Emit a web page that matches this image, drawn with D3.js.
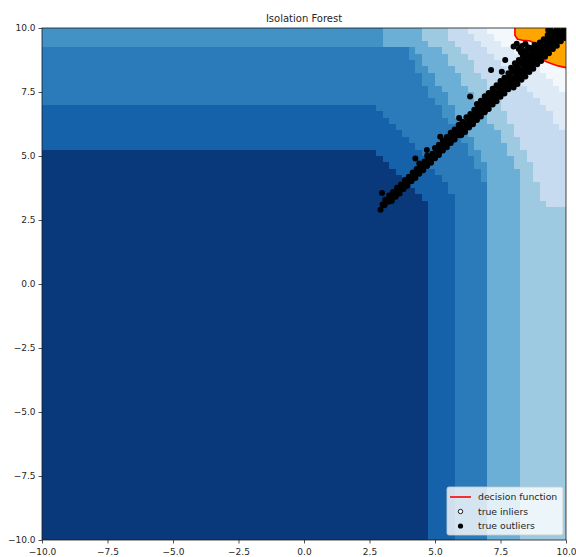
<!DOCTYPE html>
<html><head><meta charset="utf-8">
<script src="https://cdn.jsdelivr.net/npm/d3@7"></script>
<style>body{margin:0;background:#fff;} svg{display:block;font-family:"DejaVu Sans",sans-serif;}</style>
</head><body><svg id="c" width="576" height="557"></svg>
<script>
const chartTitle = "Isolation Forest";
const xTicks = [-10, -7.5, -5, -2.5, 0, 2.5, 5, 7.5, 10];
const yTicks = [-10, -7.5, -5, -2.5, 0, 2.5, 5, 7.5, 10];
const bandColors = ["#0a397b", "#1562aa", "#2b7bba", "#4292c6", "#6baed6", "#9ecae1", "#c6dbef", "#deebf7", "#f3f8fd"];
const rowEdges = [-10, 2.5, 2.75, 3, 3.25, 3.5, 3.75, 4, 4.25, 4.5, 4.75, 5, 5.25, 5.5, 5.75, 6, 6.25, 6.5, 6.75, 7, 7.25, 7.5, 7.75, 8, 8.25, 8.5, 8.75, 9, 9.25, 9.5, 9.75, 10];
// x position (per row) where the score reaches band k
const edge1 = [4.75, 4.75,4.75,4.75,4.5,4.25,4.0,3.75,3.5,3.25,3.0,2.75, -10,-10,-10,-10,-10,-10,-10,-10,-10,-10,-10,-10,-10,-10,-10,-10,-10,-10,-10];
const edge2 = [5.75, 5.75,5.75,5.75,5.75, 5.5,5.5,5.25,5.0,4.75,4.75,4.5,4.25,4.0,3.75,3.5,3.25,3.0,2.75, -10,-10,-10,-10,-10,-10,-10,-10,-10,-10,-10,-10];
const edge3 = [7, 7,7,7,7,7,7, 6.75,6.75,6.5,6.5,6.25,6.25,6.0,5.75,5.75,5.5,5.25,5.25,5.0,4.75,4.75,4.5,4.5,4.25,4.25,4.0,4.0, -10,-10,-10];
const edge4 = [7, 7,7,7,7,7,7,7,7,7, 6.75,6.75,6.5,6.5,6.25,6.25,6.0,5.75,5.75,5.5,5.5,5.25,5.0,5.0,4.75,4.5,4.5,4.25, 3.0,3.0,3.0];
const edge5 = [8.25, 8.25,8.25,8.25,8.25,8.25,8.25,8.25,8.25, 8.0,8.0,7.75,7.75,7.5,7.5,7.25,7.0,7.0,6.75,6.5,6.5,6.25,6.0,6.0,5.75,5.5,5.5,5.25,4.75,4.5,4.5];
const edge6 = [10, 10,10, 9.25,9.0,9.0,9.0,8.75,8.75,8.75,8.5,8.5,8.25,8.25,8.0,8.0,7.75,7.75,7.5,7.5,7.25,7.0,7.0,6.75,6.5,6.5,6.25,6.0,5.75,5.5,5.5];
const edge7 = [10, 10,10,10,10,10,10,10,10,10,10,10,10,10,10, 9.75,9.5,9.5,9.25,9.0,8.75,8.5,8.25,8.0,7.75,7.5,7.25,7.0,6.75,6.5,6.25];
const edge8 = [10, 10,10,10,10,10,10,10,10,10,10,10,10,10,10,10,10,10,10,10,10, 9.75,9.5,9.25,9.0,8.75,8.5,8.0,7.5,7.25,7.0];
// inlier region (score above threshold) and its red boundary
const orangeRegion = [[8.05,10],[8.05,9.72],[8.15,9.56],[8.35,9.52],[8.6,9.5],[8.78,9.42],[8.88,9.1],[8.95,8.85],[9.1,8.75],[9.4,8.62],[9.7,8.52],[10,8.45],[10,10]];
const decisionLine = [[8.05,10],[8.05,9.72],[8.15,9.56],[8.35,9.52],[8.6,9.5],[8.78,9.42],[8.88,9.1],[8.95,8.85],[9.1,8.75],[9.4,8.62],[9.7,8.52],[10,8.45]];
const outlierText = `
2.92,2.90 3.07,3.08 3.22,3.21 3.37,3.39 3.52,3.51 3.67,3.69 3.82,3.81 3.97,3.99 4.12,4.11 4.27,4.29 4.42,4.41 4.57,4.59 4.72,4.71 4.87,4.89 5.02,5.01 5.17,5.19 5.32,5.31 5.47,5.49 5.62,5.61 5.77,5.79 5.92,5.91 6.07,6.09 6.22,6.21 6.37,6.39 6.52,6.51 6.67,6.69 6.82,6.81 6.97,6.99 7.12,7.11 7.27,7.29 7.42,7.41 7.57,7.59 7.72,7.71 7.87,7.89 8.02,8.01 8.17,8.19 8.32,8.31 8.47,8.49 8.62,8.61 8.77,8.79 8.92,8.91 9.07,9.09 9.22,9.21 9.37,9.39 9.52,9.51 9.67,9.69 9.82,9.81 9.97,9.99
3.00,3.11 3.15,3.24 3.30,3.41 3.45,3.54 3.60,3.71 3.75,3.84 3.90,4.01 4.05,4.14 4.20,4.31 4.35,4.44 4.50,4.61 4.65,4.74 4.80,4.91 4.95,5.04 5.10,5.21 5.25,5.34 5.40,5.51 5.55,5.64 5.70,5.81 5.85,5.94 6.00,6.11 6.15,6.24 6.30,6.41 6.45,6.54 6.60,6.71 6.75,6.84 6.90,7.01 7.05,7.14 7.20,7.31 7.35,7.44 7.50,7.61 7.65,7.74 7.80,7.91 7.95,8.04 8.10,8.21 8.25,8.34 8.40,8.51 8.55,8.64 8.70,8.81 8.85,8.94 9.00,9.11 9.15,9.24 9.30,9.41 9.45,9.54 9.60,9.71 9.75,9.84 9.90,10.0
3.10,3.29 3.25,3.46 3.40,3.59 3.55,3.76 3.70,3.89 3.85,4.06 4.00,4.19 4.15,4.36 4.30,4.49 4.45,4.66 4.60,4.79 4.75,4.96 4.90,5.09 5.05,5.26 5.20,5.39 5.35,5.56 5.50,5.69 5.65,5.86 5.80,5.99 5.95,6.16 6.10,6.29 6.25,6.46 6.40,6.59 6.55,6.76 6.70,6.89 6.85,7.06 7.00,7.19 7.15,7.36 7.30,7.49 7.45,7.66 7.60,7.79 7.75,7.96 7.90,8.09 8.05,8.26 8.20,8.39 8.35,8.56 8.50,8.69 8.65,8.86 8.80,8.99 8.95,9.16 9.10,9.29 9.25,9.46 9.40,9.59 9.55,9.76 9.70,9.89
3.35,3.24 3.50,3.41 3.65,3.54 3.80,3.71 3.95,3.84 4.10,4.01 4.25,4.14 4.40,4.31 4.55,4.44 4.70,4.61 4.85,4.74 5.00,4.91 5.15,5.04 5.30,5.21 5.45,5.34 5.60,5.51 5.75,5.64 5.90,5.81 6.05,5.94 6.20,6.11 6.35,6.24 6.50,6.41 6.65,6.54 6.80,6.71 6.95,6.84 7.10,7.01 7.25,7.14 7.40,7.31 7.55,7.44 7.70,7.61 7.85,7.74 8.00,7.91 8.15,8.04 8.30,8.21 8.45,8.34 8.60,8.51 8.75,8.64 8.90,8.81 9.05,8.94 9.20,9.11 9.35,9.24 9.50,9.41 9.65,9.54 9.80,9.71 9.95,9.84
4.40,4.71 4.70,5.01 5.00,5.31 5.15,5.44 5.30,5.61 5.45,5.74 5.60,5.91 5.75,6.04 5.90,6.21 6.05,6.34 6.20,6.51 6.35,6.64 6.50,6.81 6.65,6.94 6.80,7.11 6.95,7.24 7.10,7.41 7.25,7.54 7.40,7.71 7.55,7.84 7.70,8.01 7.85,8.14 8.00,8.31 8.15,8.44 8.30,8.61 8.45,8.74 8.60,8.91 8.75,9.04 8.90,9.21 9.05,9.34 9.20,9.51 9.35,9.64 9.50,9.81 9.65,9.94
6.00,5.81 6.15,5.94 6.30,6.11 6.45,6.24 6.60,6.41 6.75,6.54 6.90,6.71 7.05,6.84 7.20,7.01 7.35,7.14 7.50,7.31 7.65,7.44 7.80,7.61 7.95,7.74 8.10,7.91 8.25,8.04 8.40,8.21 8.55,8.34 8.70,8.51 8.85,8.64 9.00,8.81 9.15,8.94 9.30,9.11 9.45,9.24 9.60,9.41 9.75,9.54 9.90,9.71
6.60,7.03 6.75,7.16 6.90,7.33 7.05,7.46 7.20,7.63 7.35,7.76 7.50,7.93 7.65,8.06 7.80,8.23 7.95,8.36 8.10,8.53 8.25,8.66 8.40,8.83 8.55,8.96 8.70,9.13 8.85,9.26 9.00,9.43 9.15,9.56 9.30,9.73 9.45,9.86
8.00,7.68 8.15,7.81 8.30,7.98 8.45,8.11 8.60,8.28 8.75,8.41 8.90,8.58 9.05,8.71 9.20,8.88 9.35,9.01 9.50,9.18 9.65,9.31 9.80,9.48 9.95,9.61
7.90,8.45 8.05,8.62 8.20,8.75 8.35,8.92 8.50,9.05 8.65,9.22 8.80,9.35 9.40,9.95 9.32,9.92
8.00,9.28 8.12,9.38 8.20,9.18 8.32,9.30 8.45,9.38 8.55,9.25 8.40,9.10 8.28,9.05
7.68,8.75 7.14,8.36 7.55,8.29 6.34,7.32 5.92,6.48 5.20,5.75 4.69,5.23 4.25,4.90 2.98,3.55`;
const outlierPoints = outlierText.trim().split(/\s+/).map(s => s.split(",").map(Number));
const legendLabels = ["decision function", "true inliers", "true outliers"];

const svg = d3.select("#c");
const X0 = 42, X1 = 566, Y0 = 540, Y1 = 28;
const x = d3.scaleLinear().domain([-10, 10]).range([X0, X1]);
const y = d3.scaleLinear().domain([-10, 10]).range([Y0, Y1]);
const textColor = "#262626";

svg.append("defs").append("clipPath").attr("id", "clip")
  .append("rect").attr("x", X0).attr("y", Y1).attr("width", X1 - X0).attr("height", Y0 - Y1);

const plot = svg.append("g").attr("clip-path", "url(#clip)");
const edges = [edge1, edge2, edge3, edge4, edge5, edge6, edge7, edge8];
const cells = [];
for (let i = 0; i < rowEdges.length - 1; i++) {
  const b = [-10, ...edges.map(e => e[i]), 10];
  for (let k = 0; k < bandColors.length; k++) {
    if (b[k + 1] > b[k]) cells.push({x0: b[k], x1: b[k + 1], y0: rowEdges[i], y1: rowEdges[i + 1], k});
  }
}
plot.append("g").attr("shape-rendering", "crispEdges").selectAll("rect").data(cells).join("rect")
  .attr("x", d => Math.round(x(d.x0))).attr("width", d => Math.round(x(d.x1)) - Math.round(x(d.x0)))
  .attr("y", d => Math.round(y(d.y1))).attr("height", d => Math.round(y(d.y0)) - Math.round(y(d.y1)))
  .attr("fill", d => bandColors[d.k]);

const line = d3.line().x(d => x(d[0])).y(d => y(d[1]));
plot.append("path").attr("d", line(orangeRegion) + "Z").attr("fill", "#ffa500");
plot.append("path").attr("d", line(decisionLine)).attr("fill", "none").attr("stroke", "#ff0000").attr("stroke-width", 1.6);

plot.append("g").selectAll("circle").data(outlierPoints).join("circle")
  .attr("cx", d => x(d[0])).attr("cy", d => y(d[1])).attr("r", 3).attr("fill", "#000");

// axes
const xAxis = d3.axisBottom(x).tickValues(xTicks).tickFormat(d3.format(".1f")).tickSize(3.5).tickSizeOuter(0);
const yAxis = d3.axisLeft(y).tickValues(yTicks).tickFormat(d3.format(".1f")).tickSize(3.5).tickSizeOuter(0);
const gx = svg.append("g").attr("transform", `translate(0,${Y0})`).call(xAxis);
const gy = svg.append("g").attr("transform", `translate(${X0},0)`).call(yAxis);
[gx, gy].forEach(g => {
  g.select(".domain").remove();
  g.selectAll(".tick line").attr("stroke", textColor).attr("stroke-width", 0.8);
  g.selectAll(".tick text").attr("fill", textColor).attr("font-size", 9).attr("font-family", "DejaVu Sans");
});
gx.selectAll(".tick text").attr("dy", "0.95em");
svg.append("rect").attr("x", X0).attr("y", Y1).attr("width", X1 - X0).attr("height", Y0 - Y1)
  .attr("fill", "none").attr("stroke", "#1a1a1a").attr("stroke-width", 0.8);

svg.append("text").attr("x", (X0 + X1) / 2).attr("y", 22).attr("text-anchor", "middle")
  .attr("font-size", 10).attr("fill", textColor).text(chartTitle);

// legend
const lg = svg.append("g").attr("transform", "translate(447,487)");
lg.append("rect").attr("width", 116).attr("height", 48).attr("rx", 2)
  .attr("fill", "#fff").attr("fill-opacity", 0.8).attr("stroke", "#cccccc").attr("stroke-width", 0.8);
const rows = lg.selectAll("g.item").data(legendLabels).join("g").attr("class", "item")
  .attr("transform", (d, i) => `translate(0,${10 + i * 14.5})`);
rows.append("text").attr("x", 31).attr("y", 0).attr("dy", "0.35em").attr("font-size", 9.3).attr("fill", textColor).text(d => d);
lg.append("line").attr("x1", 3).attr("x2", 24).attr("y1", 10).attr("y2", 10).attr("stroke", "#ff0000").attr("stroke-width", 1.6);
lg.append("circle").attr("cx", 13.5).attr("cy", 24.5).attr("r", 2.2).attr("fill", "#fff").attr("stroke", "#000").attr("stroke-width", 0.9);
lg.append("circle").attr("cx", 13.5).attr("cy", 39).attr("r", 2.6).attr("fill", "#000");
</script></body></html>
